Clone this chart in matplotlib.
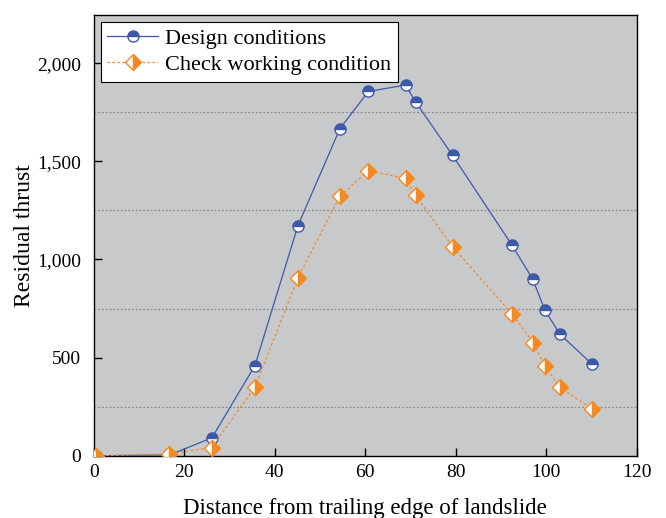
import numpy as np
import matplotlib.pyplot as plt
from matplotlib.ticker import MultipleLocator, FuncFormatter

# distance from trailing edge (m) and residual thrust values
design_x = [0.5, 16.8, 26.1, 35.6, 45.1, 54.4, 60.7, 68.9, 71.1, 79.3, 92.4, 97.0, 99.7, 103.0, 110.1]
design_y = [0, 5, 92, 460, 1172, 1667, 1856, 1888, 1803, 1530, 1074, 900, 742, 620, 468]

check_x = [0.5, 16.6, 26.0, 35.6, 45.1, 54.4, 60.7, 68.9, 71.1, 79.3, 92.5, 97.1, 99.7, 103.0, 110.1]
check_y = [0, 10, 42, 350, 906, 1323, 1452, 1413, 1327, 1065, 721, 577, 458, 350, 239]

plt.rcParams['font.family'] = ['Liberation Serif', 'DejaVu Serif']

fig = plt.figure(figsize=(6.66, 5.18), dpi=100)
ax = fig.add_axes([0.141, 0.12, 0.815, 0.851])
ax.set_facecolor('#c8c9cb')

blue = '#3d59a8'
orange = '#f5891f'

ax.plot(design_x, design_y, '-', color=blue, lw=0.9, marker='o', markersize=8,
        fillstyle='top', markerfacecolor=blue, markerfacecoloralt='white',
        markeredgecolor=blue, markeredgewidth=1.0, label='Design conditions', zorder=3)
ax.plot(check_x, check_y, linestyle=(0, (2, 2)), color=orange, lw=0.9, marker='D', markersize=8.5,
        fillstyle='right', markerfacecolor=orange, markerfacecoloralt='white',
        markeredgecolor=orange, markeredgewidth=1.0, label='Check working condition', zorder=3)

ax.set_xlim(0, 120)
ax.set_ylim(0, 2245)
ax.xaxis.set_major_locator(MultipleLocator(20))
ax.yaxis.set_major_locator(MultipleLocator(500))
ax.yaxis.set_minor_locator(MultipleLocator(250))
ax.yaxis.set_major_formatter(FuncFormatter(lambda v, p: f'{int(v):,}'))
ax.tick_params(axis='both', which='major', direction='in', length=6, width=1, labelsize=14)
ax.tick_params(axis='y', which='major', pad=9)
ax.tick_params(axis='x', which='major', pad=6)
ax.tick_params(axis='y', which='minor', length=0)

# dotted lines at the in-between values
for yv in [250, 750, 1250, 1750]:
    ax.axhline(yv, color='#8a8a8a', lw=0.9, ls=(0, (1.5, 1.5)), zorder=1)

for s in ax.spines.values():
    s.set_linewidth(1.0)

ax.set_xlabel('Distance from trailing edge of landslide', fontsize=16.5, labelpad=12)
ax.set_ylabel('Residual thrust', fontsize=17, labelpad=2)

leg = ax.legend(loc='upper left', fontsize=16, frameon=True, fancybox=False,
                edgecolor='black', framealpha=1, borderpad=0.3, handlelength=2.3,
                labelspacing=0.25, borderaxespad=0.3, handletextpad=0.3)
leg.get_frame().set_linewidth(0.8)

fig.savefig('out.png', dpi=100)
